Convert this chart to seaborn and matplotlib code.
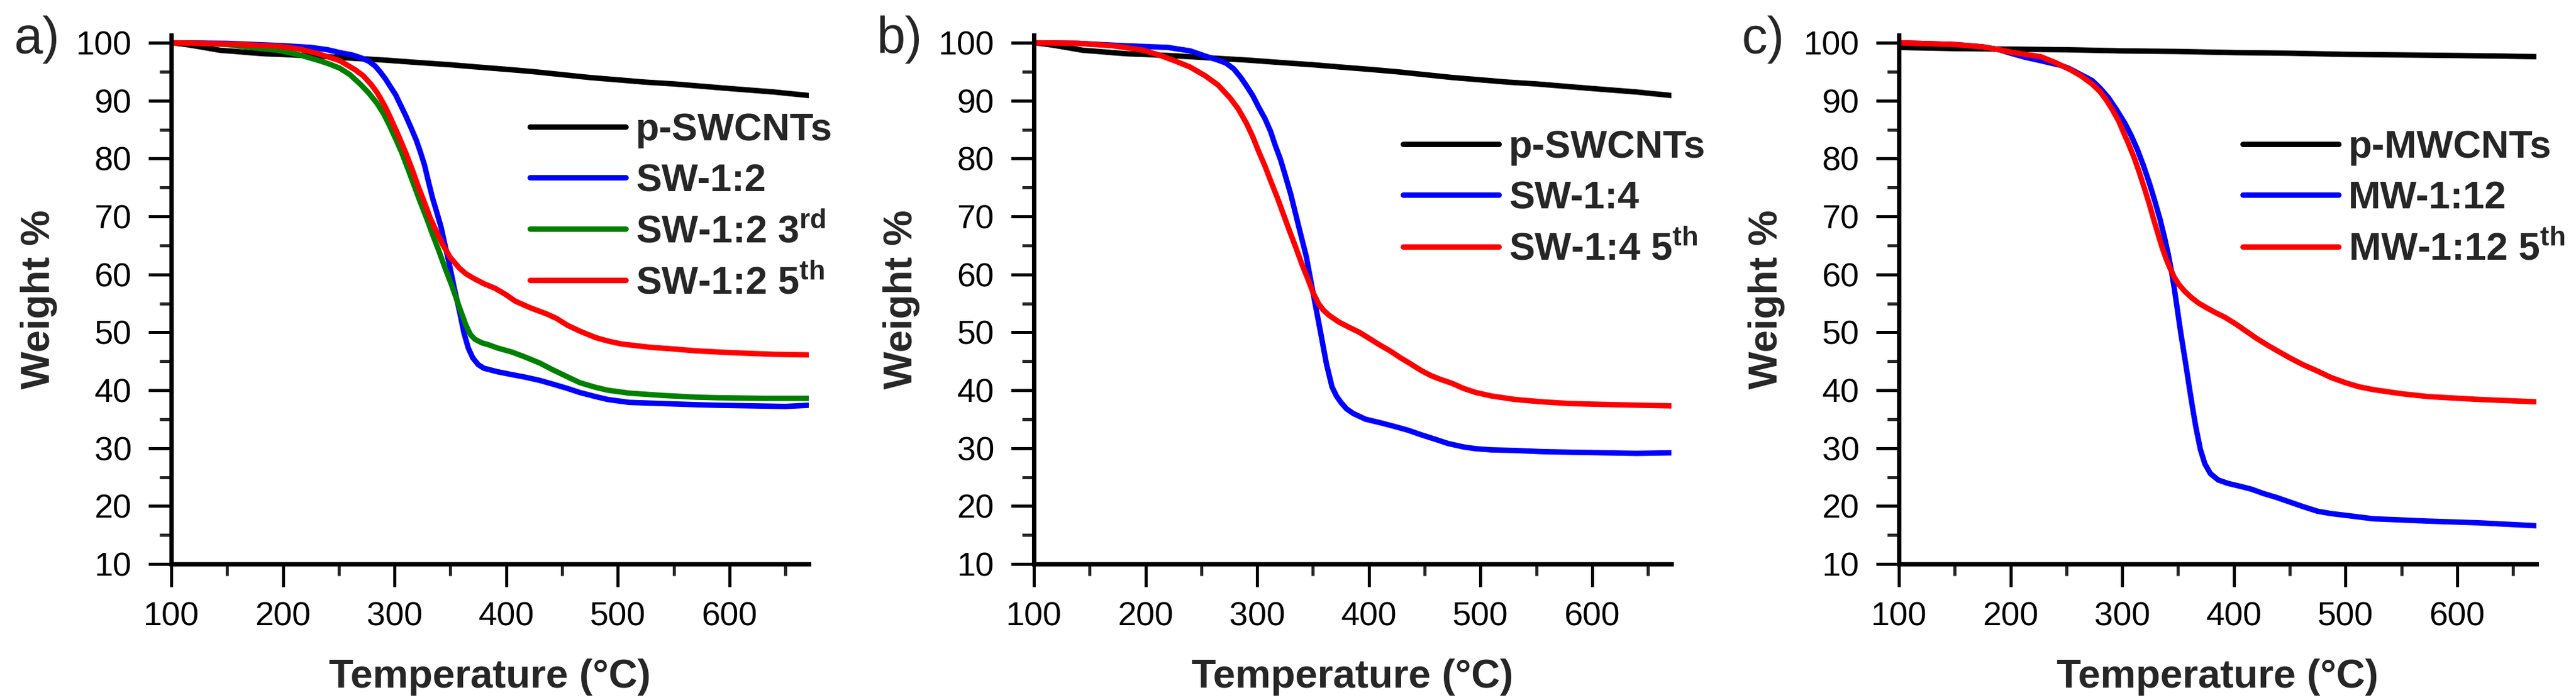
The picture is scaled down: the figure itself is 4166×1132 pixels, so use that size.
import numpy as np
import pandas as pd
import matplotlib
matplotlib.use("Agg")
import matplotlib.pyplot as plt
from matplotlib.ticker import MultipleLocator
import seaborn as sns

# ---------------- DATA ----------------

# panel a
a_black_T = [100, 110, 120, 132, 144, 158, 170, 184, 198, 220, 240, 265, 292, 320, 350, 375, 401, 425, 450, 475, 500, 525, 550, 575, 600, 620, 640, 655, 671]
a_black_W = [100.0, 99.8, 99.5, 99.1, 98.7, 98.5, 98.3, 98.1, 98.0, 97.8, 97.6, 97.3, 97.0, 96.6, 96.2, 95.8, 95.4, 95.0, 94.5, 94.0, 93.6, 93.2, 92.9, 92.5, 92.1, 91.8, 91.5, 91.2, 90.9]

a_blue_T = [100, 150, 200, 225, 240, 251, 262, 270, 277, 282.5, 287, 291.7, 296, 301, 305, 310, 315, 319.4, 323, 326.8, 330, 334, 338, 341.6, 345, 349, 353.5, 358.2, 362, 366, 370, 375, 380, 392, 405, 416, 430, 441, 455, 466, 480, 491, 510, 540, 570, 590, 620, 650, 671]
a_blue_W = [100.0, 99.9, 99.5, 99.2, 98.8, 98.3, 97.9, 97.4, 96.8, 96.0, 95.0, 93.8, 92.5, 91.0, 89.4, 87.4, 85.2, 83.2, 81.2, 78.9, 76.3, 73.2, 70.6, 68.2, 65.2, 61.8, 57.6, 53.6, 50.0, 47.3, 45.6, 44.4, 43.8, 43.2, 42.7, 42.3, 41.7, 41.1, 40.3, 39.6, 38.9, 38.4, 37.9, 37.7, 37.5, 37.4, 37.3, 37.2, 37.4]

a_green_T = [100, 130, 150, 180, 196, 215, 232.7, 242, 251, 260, 269.6, 277, 284, 290, 295.5, 301, 306.5, 312, 317.6, 323, 328.7, 334, 339.8, 345, 350.8, 355, 360, 364, 368, 372, 378, 385, 392, 405, 416, 430, 441, 455, 466, 480, 491, 510, 540, 570, 590, 630, 671]
a_green_W = [100.0, 99.9, 99.7, 99.0, 98.7, 97.9, 96.9, 96.3, 95.6, 94.5, 92.8, 91.3, 89.6, 87.8, 85.7, 83.4, 81.0, 78.2, 75.3, 72.5, 69.7, 66.9, 64.0, 61.2, 58.3, 56.0, 53.3, 51.2, 49.6, 48.8, 48.2, 47.8, 47.3, 46.6, 45.8, 44.7, 43.6, 42.3, 41.3, 40.5, 40.0, 39.5, 39.1, 38.8, 38.7, 38.6, 38.6]

a_red_T = [100, 150, 196, 215, 230, 240, 251, 265, 272, 279, 284, 288, 292, 295.5, 299, 303, 306.5, 310, 316, 321, 327, 332, 338, 343.5, 350, 358, 364, 371, 380, 390, 399, 408, 422, 436, 445, 455, 466, 480, 491, 503, 516, 530, 545, 570, 600, 640, 671]
a_red_W = [100.0, 99.8, 99.4, 98.9, 98.2, 97.6, 96.9, 95.3, 94.3, 92.8, 91.5, 90.2, 88.8, 87.4, 85.9, 84.2, 82.6, 81.0, 78.0, 75.3, 72.3, 69.7, 67.2, 65.0, 62.9, 61.1, 60.1, 59.3, 58.4, 57.6, 56.6, 55.4, 54.2, 53.2, 52.4, 51.2, 50.2, 49.1, 48.5, 48.0, 47.7, 47.4, 47.2, 46.8, 46.5, 46.2, 46.1]

# panel b
b_black_T = a_black_T
b_black_W = a_black_W

b_blue_T = [100, 140, 180, 220, 240, 253.5, 265, 272, 279, 285, 290, 296, 301, 307, 312, 316, 321, 325, 330, 334.5, 339, 344, 351, 357, 362, 367, 371, 375, 380, 386, 397, 410, 422, 435, 447, 460, 471, 485, 496, 510, 531, 555, 580, 610, 640, 671]
b_blue_W = [100.0, 99.9, 99.5, 99.2, 98.6, 97.7, 97.0, 96.5, 95.5, 94.1, 92.7, 90.9, 89.0, 86.9, 84.7, 82.4, 79.8, 77.2, 73.9, 70.4, 66.9, 63.1, 55.9, 49.8, 44.6, 40.6, 39.0, 37.9, 36.8, 36.0, 35.0, 34.4, 33.8, 33.1, 32.3, 31.5, 30.8, 30.2, 29.9, 29.7, 29.6, 29.4, 29.3, 29.2, 29.1, 29.2]

b_red_T = [100, 140, 170, 185, 198, 212, 226, 240, 253.5, 265, 275.6, 283, 290.4, 296, 301.4, 307, 312.4, 318, 323.5, 329, 334.5, 340, 345.6, 350, 354.8, 359, 364, 373, 382, 391.6, 400, 410, 419, 428.4, 437, 447, 456, 465.3, 474.5, 485, 496, 510, 531, 555, 580, 620, 671]
b_red_W = [100.0, 99.9, 99.5, 99.1, 98.7, 97.9, 96.9, 95.8, 94.3, 92.7, 90.5, 88.6, 86.1, 83.8, 81.2, 78.7, 76.0, 73.3, 70.4, 67.5, 64.7, 61.8, 59.1, 56.9, 55.0, 53.9, 53.0, 51.8, 50.9, 50.0, 49.0, 47.8, 46.8, 45.6, 44.6, 43.4, 42.5, 41.8, 41.2, 40.3, 39.6, 39.0, 38.4, 38.0, 37.7, 37.5, 37.3]

# panel c
c_black_T = [100, 150, 200, 250, 300, 350, 401, 450, 500, 550, 599, 640, 671]
c_black_W = [99.2, 99.0, 98.9, 98.8, 98.6, 98.5, 98.3, 98.2, 98.0, 97.9, 97.8, 97.7, 97.6]

c_blue_T = [100, 150, 175, 190, 200, 213, 227, 245, 252, 262, 272.9, 280, 287.7, 295, 302.4, 308, 313.5, 319, 324.6, 329, 333.8, 338, 341.2, 344, 346.7, 349.5, 352.2, 355, 357.8, 360.5, 363, 366, 370, 374, 379, 386, 395, 406, 416, 426, 438, 450, 462, 475, 487, 500, 525, 550, 574, 620, 671]
c_blue_W = [100.0, 99.7, 99.3, 98.8, 98.2, 97.5, 96.9, 96.1, 95.6, 94.6, 93.5, 92.2, 90.5, 88.4, 86.1, 84.0, 81.6, 78.8, 75.6, 72.8, 69.6, 66.3, 63.5, 60.7, 57.5, 53.8, 50.2, 46.8, 43.4, 40.0, 37.0, 33.6, 29.8, 27.3, 25.6, 24.5, 23.9, 23.4, 22.9, 22.2, 21.5, 20.7, 19.9, 19.1, 18.7, 18.4, 17.8, 17.6, 17.4, 17.1, 16.6]

c_red_T = [100, 150, 175, 190, 200, 213, 227, 240, 254, 263, 272.9, 280, 285.8, 291, 296.8, 301, 306, 311, 315.3, 320, 324.5, 328, 331.9, 335.5, 339.3, 343, 346.6, 351, 355.9, 362, 368.8, 376, 383.5, 392, 402, 411, 420, 430, 439, 450, 462, 475, 487, 500, 512, 525, 550, 574, 620, 671]
c_red_W = [100.0, 99.7, 99.3, 98.8, 98.4, 98.0, 97.6, 96.6, 95.3, 94.3, 92.9, 91.6, 90.1, 88.5, 86.5, 84.6, 82.4, 80.0, 77.6, 74.8, 72.0, 69.6, 67.1, 64.8, 62.7, 61.0, 59.5, 58.2, 57.1, 56.0, 55.0, 54.2, 53.4, 52.6, 51.4, 50.2, 49.0, 47.8, 46.8, 45.6, 44.4, 43.3, 42.2, 41.3, 40.6, 40.1, 39.4, 38.9, 38.4, 38.0]

panels = [
    ("a)", [("p-SWCNTs", a_black_T, a_black_W, "black"),
            ("SW-1:2", a_blue_T, a_blue_W, "#0000ff"),
            (r"SW-1:2 3$^{\mathbf{rd}}$", a_green_T, a_green_W, "#008000"),
            (r"SW-1:2 5$^{\mathbf{th}}$", a_red_T, a_red_W, "#ff0000")]),
    ("b)", [("p-SWCNTs", b_black_T, b_black_W, "black"),
            ("SW-1:4", b_blue_T, b_blue_W, "#0000ff"),
            (r"SW-1:4 5$^{\mathbf{th}}$", b_red_T, b_red_W, "#ff0000")]),
    ("c)", [("p-MWCNTs", c_black_T, c_black_W, "black"),
            ("MW-1:12", c_blue_T, c_blue_W, "#0000ff"),
            (r"MW-1:12 5$^{\mathbf{th}}$", c_red_T, c_red_W, "#ff0000")]),
]

# ---------------- STYLE ----------------

sns.set_theme(style="ticks")
plt.rcParams["font.family"] = ["Liberation Sans", "DejaVu Sans"]
plt.rcParams["mathtext.fontset"] = "custom"
plt.rcParams["mathtext.rm"] = "Liberation Sans"
plt.rcParams["mathtext.bf"] = "Liberation Sans:bold"

W, H = 4166, 1132
fig = plt.figure(figsize=(W / 300, H / 300), dpi=300)

lefts = [277, 1672, 3071]
legend_pos = [(0.5625, 0.855), (0.579, 0.822), (0.539, 0.822)]

for i, (tag, series) in enumerate(panels):
    ax = fig.add_axes([lefts[i] / W, 1 - 912 / H, 1031 / W, 855 / H])
    for name, T, Wt, col in series:
        df = pd.DataFrame({"T": T, "W": Wt})
        sns.lineplot(data=df, x="T", y="W", color=col, linewidth=2.1,
                     label=name, ax=ax, sort=False)

    ax.set_xlim(100, 671)
    ax.set_ylim(10, 101.3)
    ax.xaxis.set_major_locator(MultipleLocator(100))
    ax.xaxis.set_minor_locator(MultipleLocator(50))
    ax.yaxis.set_major_locator(MultipleLocator(10))
    ax.yaxis.set_minor_locator(MultipleLocator(5))
    ax.tick_params(which="major", length=8.9, width=1.2, direction="out",
                   labelsize=13, colors="black")
    ax.tick_params(which="minor", length=4.6, width=1.2, direction="out")
    ax.tick_params(axis="x", pad=5.5)
    ax.tick_params(axis="y", pad=6.5)
    sns.despine(ax=ax)
    for s in ["left", "bottom"]:
        ax.spines[s].set_linewidth(1.7)
        ax.spines[s].set_color("black")

    ax.set_xlabel("Temperature (°C)", fontsize=15.5, fontweight="bold")
    ax.set_ylabel("Weight %", fontsize=15.5, fontweight="bold")
    ax.xaxis.set_label_coords(0.5, -0.179)
    ax.yaxis.set_label_coords(-0.178, 0.5)

    ax.text(-0.247, 0.992, tag, transform=ax.transAxes, fontsize=20,
            ha="left", va="center")

    ax.legend(loc="upper left", bbox_to_anchor=legend_pos[i], frameon=False,
              borderpad=0, borderaxespad=0, handlelength=2.48,
              handletextpad=0.26, labelspacing=0.37,
              prop={"weight": "bold", "size": 15})

fig.savefig("out.png", dpi=300)
